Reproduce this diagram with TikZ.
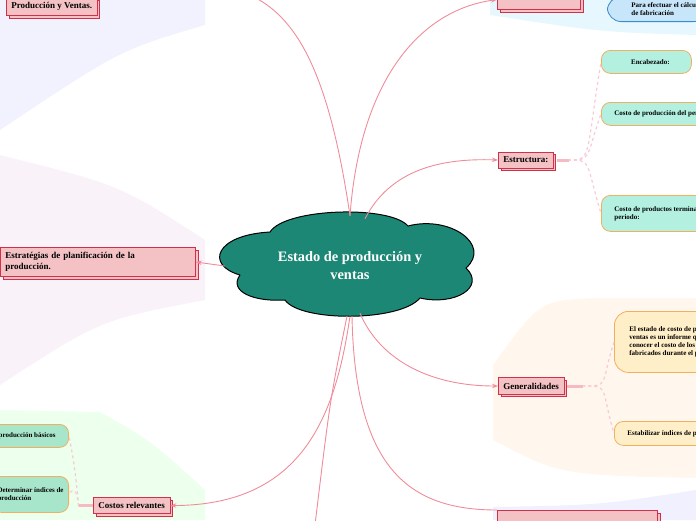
\documentclass[tikz,border=0pt]{standalone}
\usepackage{fontspec}
\setmainfont{Liberation Serif}
\usetikzlibrary{arrows.meta,shadows}
\definecolor{teal1}{HTML}{1D8776}
\definecolor{pinkbox}{HTML}{F4C2C4}
\definecolor{pinkline}{HTML}{D0304A}
\definecolor{wire}{HTML}{F08C9A}
\definecolor{mint}{HTML}{B3F0E0}
\definecolor{mintL}{HTML}{A8E6CC}
\definecolor{cream}{HTML}{FFEFC8}
\definecolor{orangeline}{HTML}{F0B060}
\definecolor{skyfill}{HTML}{C8E6FA}
\definecolor{skyline}{HTML}{3A8AD0}
\tikzset{
topic/.style = {draw=pinkline,fill=pinkbox,line width=0.8pt,font=\bfseries\small,align=left,inner sep=5pt,
  copy shadow={shadow xshift=2.5pt,shadow yshift=-2.5pt,draw=pinkline,fill=pinkbox,line width=0.8pt}},
leaf/.style = {draw=orangeline,fill=mint,line width=0.8pt,rounded corners=9pt,font=\bfseries\scriptsize,align=left,inner sep=5pt,anchor=north west},
wire/.style = {draw=wire,line width=0.9pt,-{Stealth[length=6pt,open]}},
stub/.style = {draw=wire!45,line width=1.2pt,dashed}
}
\begin{document}
\begin{tikzpicture}[x=1pt,y=-1pt]
\useasboundingbox (0,0) rectangle (696,520);
\clip (0,0) rectangle (696,520);
%
% background areas
\fill[blue!5] (0,0)--(205,0)--(205,25) .. controls (120,50) .. (0,130)--cycle;
\fill[violet!5] (0,155) .. controls (120,185) .. (205,240)--(205,300) .. controls (100,320) .. (0,385)--cycle;
\fill[green!7] (0,410)--(100,412) .. controls (150,440) .. (205,490)--(205,520)--(0,520)--cycle;
\fill[orange!7] (493,365) .. controls (540,300) .. (600,298)--(696,298)--(696,478) .. controls (560,475) .. (493,440)--cycle;
\fill[cyan!10] (490,0)--(696,0)--(696,35) .. controls (600,32) .. (490,15)--cycle;
\fill[blue!6] (493,507) .. controls (600,505) .. (696,490)--(696,520)--(493,520)--cycle;
%
% central cloud
\draw[fill=teal1,line width=1pt] (240,275) .. controls (205,265) and (215,235) .. (270,232)
  .. controls (285,208) and (390,205) .. (408,226)
  .. controls (450,215) and (492,245) .. (466,268)
  .. controls (486,287) and (455,306) .. (420,298)
  .. controls (400,322) and (300,322) .. (285,300)
  .. controls (255,302) and (228,292) .. (240,275);
\node[text=white,font=\bfseries\Large,align=center,minimum width=250pt,minimum height=100pt,inner sep=0pt] (center) at (350,266)
  {Estado de producción y\\ventas};
%
% main topics
\node[topic,anchor=south west] (prod) at (6,16) {Producción y Ventas.};
\node[topic,anchor=north west,text width=185pt] (plan) at (0,247) {Estratégias de planificación de la\\producción.};
\node[topic,anchor=north west] (cost) at (93,497) {Costos relevantes};
\node[topic,anchor=west] (estr) at (498,160) {Estructura:};
\node[topic,anchor=west] (gen) at (498,386) {Generalidades};
\node[topic,anchor=south west,minimum width=83pt,minimum height=20pt] (top) at (497,10) {};
\node[topic,anchor=north west,minimum width=160pt,minimum height=20pt] (vent) at (497,510) {};
%
% leaves
\node[leaf,minimum width=90pt,minimum height=23pt] (enc) at (601,50) {\hspace{8pt}Encabezado:};
\node[leaf,minimum height=23pt] (cprod) at (601,102) {\hspace{8pt}Costo de producción del periodo};
\node[leaf,minimum height=36pt] (cperi) at (601,195) {\hspace{8pt}Costo de productos terminados del\\\hspace{8pt}periodo:};
\node[leaf,fill=cream,rounded corners=14pt,inner sep=7pt,minimum height=61pt] (def) at (614,311) {\hspace{8pt}El estado de costo de producción y\\\hspace{8pt}ventas es un informe que permite\\\hspace{8pt}conocer el costo de los productos\\\hspace{8pt}fabricados durante el periodo};
\node[leaf,fill=cream,minimum height=24pt] (estab) at (614,421) {\hspace{8pt}Estabilizar índices de producción};
\node[leaf,fill=skyfill,draw=skyline,rounded corners=14pt,anchor=south west,inner sep=6pt] (fab) at (607,22) {\hspace{18pt}Para efectuar el cálculo\\\hspace{18pt}de fabricación};
\node[leaf,fill=mintL,anchor=north east,minimum height=23pt] (bas) at (69,424) {Costos de producción básicos\hspace{8pt}};
\node[leaf,fill=mintL,anchor=north east,minimum height=36pt] (ind) at (69,476) {Determinar índices de\hspace{8pt}\\producción};
\node[circle,draw=orangeline,fill=skyfill,line width=0.8pt,minimum size=30pt] (dot) at (712,528) {};
%
% connectors
\coordinate (bot) at (315,525);
\draw[wire] (center.north) .. controls (330,80) and (300,20) .. (250,-5);
\draw[wire] (center.north) .. controls (360,80) and (420,10) .. (top.west);
\draw[wire] (center.north) ++(15,3) .. controls (390,170) and (440,158) .. (estr.west);
\draw[wire] (center.west) -- (plan.east);
\draw[wire] (center.south) ++(10,-3) .. controls (380,360) and (430,386) .. (gen.west);
\draw[wire] (center.south) .. controls (335,420) and (300,505) .. (cost.east);
\draw[wire,-] (center.south) ++(-3,0) .. controls (330,400) .. (bot);
\draw[wire,-] (center.south) ++(2,0) .. controls (355,470) and (410,510) .. (vent.north west);
%
% sub branches
\foreach \n in {enc,cprod,cperi}{\draw[stub] (estr.east) ++(14,0) .. controls (592,160) and (585,160) .. (\n.west);}
\draw[draw=wire!60,line width=3pt] (estr.east)++(3,0) -- ++(12,0);
\foreach \n in {def,estab}{\draw[stub] (gen.east) ++(18,0) .. controls (610,386) and (600,386) .. (\n.west);}
\draw[draw=wire!60,line width=3pt] (gen.east)++(3,0) -- ++(16,0);
\foreach \n in {bas,ind}{\draw[stub] (cost.west) ++(-14,0) .. controls (78,510) and (78,480) .. (\n.east);}
\draw[draw=wire!60,line width=3pt] (cost.west) -- ++(-14,0);
%
\end{tikzpicture}
\end{document}
